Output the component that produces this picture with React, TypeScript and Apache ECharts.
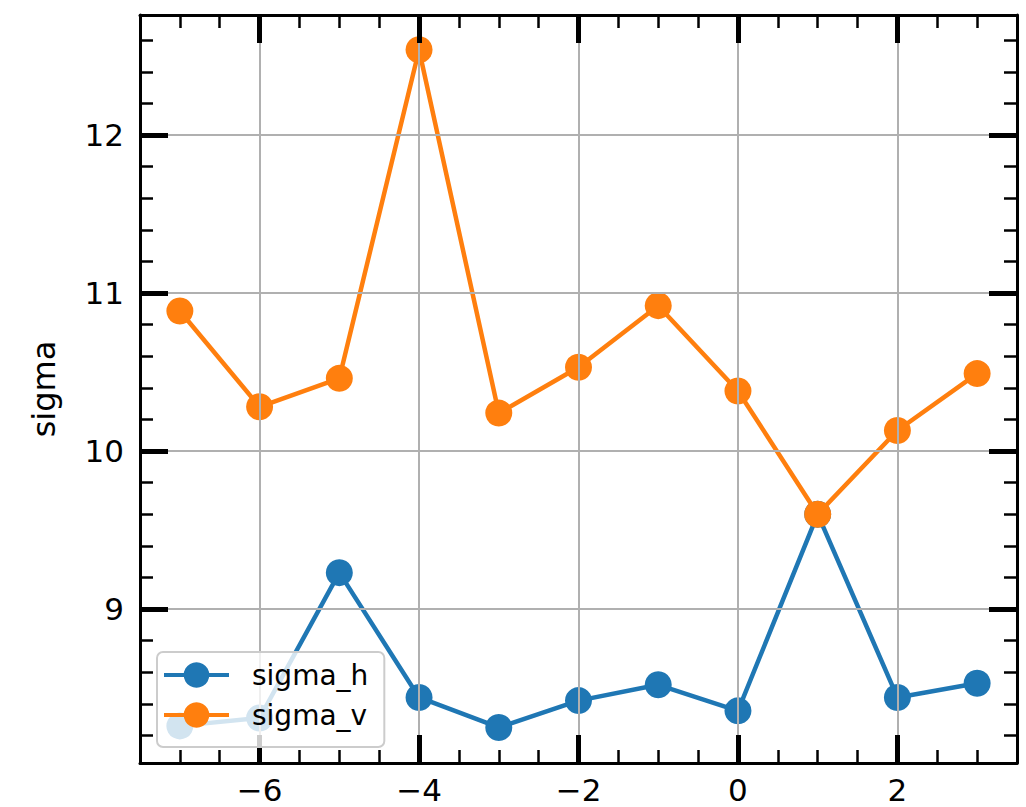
import React, { useEffect, useRef } from "react";
import * as echarts from "echarts";

const xValues = [-7, -6, -5, -4, -3, -2, -1, 0, 1, 2, 3];
const sigmaH = [8.26, 8.31, 9.23, 8.44, 8.25, 8.42, 8.52, 8.355, 9.6, 8.44, 8.53];
const sigmaV = [10.886, 10.28, 10.46, 12.54, 10.24, 10.53, 10.92, 10.38, 9.6, 10.13, 10.49];
const seriesNames = ["sigma_h", "sigma_v"];
const xMajorTicks = [-6, -4, -2, 0, 2];
const yMajorTicks = [9, 10, 11, 12];
const xRange = [-7.5, 3.5];
const yRange = [8.025, 12.76];
const xMinorStep = 0.5;
const yMinorStep = 0.2;

function minorTicks(min: number, max: number, step: number): number[] {
  const out: number[] = [];
  let k = Math.ceil(min / step - 1e-9);
  while (k * step <= max + 1e-9) {
    out.push(Math.round(k * step * 1000) / 1000);
    k++;
  }
  return out;
}

const FONT = "DejaVu Sans";
const BLACK = "#000000";

function fmt(v: number): string {
  const s = String(Math.round(v));
  return s.replace("-", "\u2212");
}

function makeAxis(
  position: string,
  range: number[],
  opts: { major: boolean; ticks: number[]; labels: boolean; split: boolean; line: boolean; isY: boolean }
) {
  const a: any = {
    type: "value",
    position,
    min: range[0],
    max: range[1],
    axisLine: { show: opts.line, onZero: false, lineStyle: { color: BLACK, width: 3 } },
    axisTick: {
      show: true,
      inside: true,
      customValues: opts.ticks,
      length: opts.major ? 28 : 13,
      lineStyle: { color: BLACK, width: opts.major ? 5 : 2.5 },
    },
    axisLabel: opts.labels
      ? {
          show: true,
          customValues: opts.ticks,
          formatter: (v: number) => fmt(v),
          fontSize: 31,
          fontFamily: FONT,
          color: BLACK,
          margin: opts.isY ? 16 : 11,
        }
      : { show: false },
    splitLine: opts.split
      ? { show: true, lineStyle: { color: "#b0b0b0", width: 2 } }
      : { show: false },
    z: 5,
  };
  return a;
}

export default function App() {
  const ref = useRef<HTMLDivElement>(null);
  useEffect(() => {
    if (!ref.current) return;
    const chart = echarts.init(ref.current, null, { renderer: "svg" });
    const xMinor = minorTicks(xRange[0], xRange[1], xMinorStep);
    const yMinor = minorTicks(yRange[0], yRange[1], yMinorStep);

    const yMain = makeAxis("left", yRange, { major: true, ticks: yMajorTicks, labels: true, split: true, line: true, isY: true });
    yMain.name = "sigma";
    yMain.nameLocation = "middle";
    yMain.nameGap = 80;
    yMain.nameTextStyle = { fontSize: 32, fontFamily: FONT, color: BLACK };

    const option: any = {
      animation: false,
      backgroundColor: "#ffffff",
      grid: {
        left: 140,
        top: 15,
        right: 9,
        bottom: 44,
        containLabel: false,
        outerBoundsMode: "none",
      },
      xAxis: [
        makeAxis("bottom", xRange, { major: true, ticks: xMajorTicks, labels: true, split: true, line: true, isY: false }),
        makeAxis("top", xRange, { major: true, ticks: xMajorTicks, labels: false, split: false, line: true, isY: false }),
        makeAxis("bottom", xRange, { major: false, ticks: xMinor, labels: false, split: false, line: false, isY: false }),
        makeAxis("top", xRange, { major: false, ticks: xMinor, labels: false, split: false, line: false, isY: false }),
      ],
      yAxis: [
        yMain,
        makeAxis("right", yRange, { major: true, ticks: yMajorTicks, labels: false, split: false, line: true, isY: true }),
        makeAxis("left", yRange, { major: false, ticks: yMinor, labels: false, split: false, line: false, isY: true }),
        makeAxis("right", yRange, { major: false, ticks: yMinor, labels: false, split: false, line: false, isY: true }),
      ],
      legend: {
        orient: "vertical",
        left: 157,
        top: 652,
        data: seriesNames,
        itemWidth: 65,
        itemHeight: 32,
        itemGap: 12,
        padding: [9, 16, 18, 5],
        backgroundColor: "rgba(255,255,255,0.8)",
        borderColor: "#cccccc",
        borderWidth: 2,
        borderRadius: 6,
        textStyle: { fontSize: 28, fontFamily: FONT, color: BLACK, padding: [0, 0, 0, 18] },
        lineStyle: { width: 4 },
        z: 10,
      },
      series: [
        {
          name: seriesNames[0],
          type: "line",
          xAxisIndex: 0,
          yAxisIndex: 0,
          data: xValues.map((x, i) => [x, sigmaH[i]]),
          symbol: "circle",
          symbolSize: 27,
          lineStyle: { color: "#1f77b4", width: 4.5 },
          itemStyle: { color: "#1f77b4" },
          z: 3,
        },
        {
          name: seriesNames[1],
          type: "line",
          xAxisIndex: 0,
          yAxisIndex: 0,
          data: xValues.map((x, i) => [x, sigmaV[i]]),
          symbol: "circle",
          symbolSize: 27,
          lineStyle: { color: "#ff7f0e", width: 4.5 },
          itemStyle: { color: "#ff7f0e" },
          z: 4,
        },
      ],
    };
    chart.setOption(option);
    return () => chart.dispose();
  }, []);
  return (
    <div
      ref={ref}
      style={{ position: "absolute", left: 0, top: 0, width: 1026, height: 807, background: "#fff" }}
    />
  );
}
